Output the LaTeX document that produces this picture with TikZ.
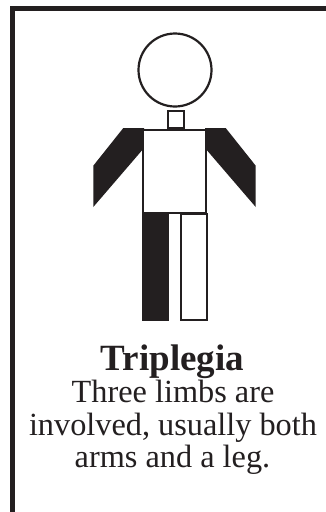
\documentclass[tikz,border=0pt]{standalone}
\usepackage{fontspec}
\setmainfont{Liberation Serif}
\definecolor{ink}{HTML}{231F20}
\tikzset{
  part/.style={draw=ink,line width=2.2pt,fill=white},
  limb/.style={fill=ink,draw=none},
  frameline/.style={draw=ink,line width=5pt},
  caption/.style={anchor=base,inner sep=0pt,text=ink,font=\fontsize{32.3}{34}\selectfont},
  title/.style={anchor=base,inner sep=0pt,text=ink,font=\fontsize{37}{38}\selectfont\bfseries}
}
\begin{document}
\begin{tikzpicture}[x=1pt,y=-1pt]
\useasboundingbox (0,0) rectangle (326,512);
\fill[white] (0,0) rectangle (326,512);
\draw[frameline] (12.5,512) -- (12.5,8.5) -- (326,8.5);
\draw[part] (175,70) circle (36.5);
\fill[limb] (123.3,128) -- (144,128) -- (144,148) -- (93.3,207) -- (93.3,165.7) -- cycle;
\fill[limb] (225.7,128) -- (205,128) -- (205,148) -- (255.7,207) -- (255.7,165.7) -- cycle;
\draw[part] (168.3,111) rectangle (184.3,128);
\draw[part] (143.2,130) rectangle (205.8,213);
\fill[limb] (142.2,213) rectangle (169.3,321);
\draw[part] (181.2,214) rectangle (206.6,320);
\node[title] (t0) at (172.5,370) {Triplegia};
\node[caption] (t1) at (173,402.7) {Three limbs are};
\node[caption] (t2) at (173,435) {involved, usually both};
\node[caption] (t3) at (172.5,467.7) {arms and a leg.};
\end{tikzpicture}
\end{document}
